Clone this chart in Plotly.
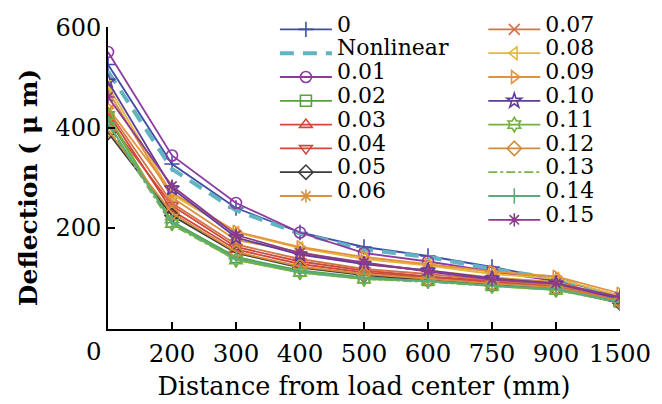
import plotly.graph_objects as go

x_labels = ["0", "200", "300", "400", "500", "600", "750", "900", "1500"]
series_names = ["0", "Nonlinear", "0.01", "0.02", "0.03", "0.04", "0.05", "0.06",
                "0.07", "0.08", "0.09", "0.10", "0.11", "0.12", "0.13", "0.14", "0.15"]
y_title = "Deflection ( μ m)"
x_title = "Distance from load center (mm)"

s_0 = [526, 327, 239, 190, 161, 143, 121, 96, 63]
s_nonlinear = [512, 317, 234, 188, 156, 141, 117, 98, 58]
s_001 = [551, 344, 249, 190, 149, 132, 112, 93, 53]
s_002 = [419, 212, 141, 114, 100, 95, 85, 78, 52]
s_003 = [429, 234, 156, 127, 110, 100, 91, 81, 51]
s_004 = [414, 244, 161, 132, 114, 102, 93, 83, 52]
s_005 = [390, 224, 149, 120, 105, 95, 85, 78, 49]
s_006 = [473, 260, 175, 151, 127, 114, 100, 91, 58]
s_007 = [434, 249, 166, 137, 117, 107, 95, 85, 54]
s_008 = [483, 266, 190, 159, 137, 124, 107, 98, 63]
s_009 = [439, 270, 192, 161, 141, 127, 112, 102, 68]
s_010 = [492, 278, 180, 146, 127, 114, 98, 88, 58]
s_011 = [424, 208, 135, 110, 97, 93, 83, 75, 51]
s_012 = [395, 229, 151, 122, 107, 97, 88, 80, 52]
s_013 = [405, 205, 135, 110, 97, 91, 83, 75, 50]
s_014 = [409, 210, 138, 112, 99, 93, 84, 77, 51]
s_015 = [461, 283, 185, 149, 130, 112, 96, 88, 61]

values = [s_0, s_nonlinear, s_001, s_002, s_003, s_004, s_005, s_006,
          s_007, s_008, s_009, s_010, s_011, s_012, s_013, s_014, s_015]

LW = 1.8
styles = [
    dict(color="#3f4ea6", symbol="cross-thin-open", dash="solid", width=LW),
    dict(color="#62b4c0", symbol=None, dash="14px,9px", width=4),
    dict(color="#8d3b9f", symbol="circle-open", dash="solid", width=LW),
    dict(color="#52a537", symbol="square-open", dash="solid", width=LW),
    dict(color="#d2483a", symbol="triangle-up-open", dash="solid", width=LW),
    dict(color="#d04a3c", symbol="triangle-down-open", dash="solid", width=LW),
    dict(color="#3c3c3c", symbol="diamond-open", dash="solid", width=LW),
    dict(color="#d69340", symbol="asterisk-open", dash="solid", width=LW),
    dict(color="#d2744a", symbol="x-thin-open", dash="solid", width=LW),
    dict(color="#e2b840", symbol="triangle-left-open", dash="solid", width=LW),
    dict(color="#e6923c", symbol="triangle-right-open", dash="solid", width=LW),
    dict(color="#5d3c9c", symbol="star-open", dash="solid", width=LW),
    dict(color="#72b03c", symbol="hexagram-open", dash="solid", width=LW),
    dict(color="#d38c3c", symbol="diamond-open", dash="solid", width=LW),
    dict(color="#78b34c", symbol=None, dash="dashdot", width=LW),
    dict(color="#5bac7c", symbol="cross-thin-open", dash="solid", width=LW),
    dict(color="#8c3b8c", symbol="asterisk-open", dash="solid", width=LW),
]

xs = list(range(len(x_labels)))
fig = go.Figure()
for i, (name, vals, st) in enumerate(zip(series_names, values, styles)):
    mode = "lines+markers" if st["symbol"] else "lines"
    tr = dict(
        x=xs, y=vals, mode=mode,
        name="<span style='font-size:22px;baseline-shift:4px'>" + name + "</span>",
        line=dict(color=st["color"], dash=st["dash"], width=st["width"]),
        legend="legend" if i < 8 else "legend2",
    )
    if st["symbol"]:
        tr["marker"] = dict(symbol=st["symbol"], size=11, color=st["color"],
                            line=dict(color=st["color"], width=1.6))
    fig.add_trace(go.Scatter(**tr))

font_family = "DejaVu Serif"
leg_common = dict(xanchor="left", yanchor="top",
                  bgcolor="rgba(0,0,0,0)",
                  font=dict(size=16, family=font_family), tracegroupgap=0,
                  itemwidth=52, maxheight=400)
fig.update_layout(
    width=662, height=404,
    margin=dict(l=108, r=42, t=16, b=75),
    plot_bgcolor="white", paper_bgcolor="white",
    font=dict(family=font_family, color="black", size=17),
    legend=dict(x=0.326, y=1.048, **leg_common),
    legend2=dict(x=0.733, y=1.048, **leg_common),
    xaxis=dict(
        range=[0, 8], tickmode="array", tickvals=xs[1:], ticktext=x_labels[1:],
        ticks="inside", ticklen=7, tickwidth=2, tickcolor="black",
        showline=True, linecolor="black", linewidth=2, showgrid=False, zeroline=False,
        tickfont=dict(size=24.5), ticklabelstandoff=2, automargin=False,
        title=dict(text=x_title, font=dict(size=25.5), standoff=10),
    ),
    yaxis=dict(
        range=[-3, 601], tickvals=[200, 400, 600],
        ticks="inside", ticklen=7, tickwidth=2, tickcolor="black",
        showline=True, linecolor="black", linewidth=2, showgrid=False, zeroline=False,
        tickfont=dict(size=24), automargin=False,
    ),
)
fig.add_annotation(text=x_labels[0], x=0, y=0, xref="x", yref="paper",
                   xshift=-14, yshift=-6, yanchor="top", showarrow=False,
                   font=dict(size=24.5, family=font_family))
fig.add_annotation(text="<b>" + y_title + "</b>", textangle=-90,
                   x=0, y=(329 - 183) / 313, xref="paper", yref="paper",
                   xshift=-80, xanchor="center", yanchor="middle", showarrow=False,
                   font=dict(size=25, family=font_family))

fig.write_html("out.html", post_script="document.body.style.margin='0px';",
               config={"displayModeBar": False})
